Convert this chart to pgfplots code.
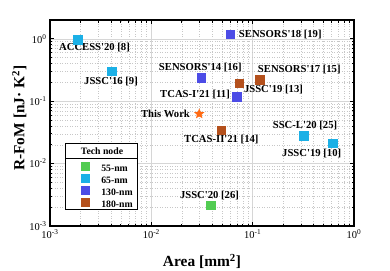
\documentclass[border=0pt]{standalone}
\usepackage{fontspec}
\setmainfont{Liberation Serif}
\usepackage{pgfplots}
\pgfplotsset{compat=1.18}
\definecolor{c55}{HTML}{52CC52}
\definecolor{c65}{HTML}{1BB0E6}
\definecolor{c130}{HTML}{4C4CE6}
\definecolor{c180}{HTML}{B4501C}
\definecolor{cstar}{HTML}{FF6A13}
\pgfdeclareplotmark{fstar}{%
 \pgfpathmoveto{\pgfpointpolar{90}{\pgfplotmarksize}}%
 \pgfpathlineto{\pgfpointpolar{126}{0.45\pgfplotmarksize}}%
 \pgfpathlineto{\pgfpointpolar{162}{\pgfplotmarksize}}%
 \pgfpathlineto{\pgfpointpolar{198}{0.45\pgfplotmarksize}}%
 \pgfpathlineto{\pgfpointpolar{234}{\pgfplotmarksize}}%
 \pgfpathlineto{\pgfpointpolar{270}{0.45\pgfplotmarksize}}%
 \pgfpathlineto{\pgfpointpolar{306}{\pgfplotmarksize}}%
 \pgfpathlineto{\pgfpointpolar{342}{0.45\pgfplotmarksize}}%
 \pgfpathlineto{\pgfpointpolar{18}{\pgfplotmarksize}}%
 \pgfpathlineto{\pgfpointpolar{54}{0.45\pgfplotmarksize}}%
 \pgfpathclose\pgfusepathqfill}
\newcommand{\q}{\textquotesingle}
\newcommand{\lbl}{\bfseries\fontsize{10.7}{12}\selectfont}
\begin{document}
\begin{tikzpicture}
\useasboundingbox (-50bp,-45bp) rectangle (340bp,226bp);
\begin{axis}[
  scale only axis, width=304bp, height=206bp,
  at={(0,0)}, anchor=south west,
  xmode=log, ymode=log,
  xmin=1e-3, xmax=1, ymin=1e-3, ymax=2,
  grid=both,
  major grid style={line width=0.5bp, draw=black!16},
  minor grid style={line width=0.5bp, draw=black!22, dotted},
  axis line style={line width=1.2bp, black},
  tick align=inside,
  tick style={black, line width=0.8bp},
  major tick length=4bp, minor tick length=2.5bp,
  xticklabel={10\textsuperscript{\pgfmathtruncatemacro\ee{round(\tick/ln(10))}\ee}},
  yticklabel={10\textsuperscript{\pgfmathtruncatemacro\ee{round(\tick/ln(10))}\ee}},
  ticklabel style={font=\fontsize{10.5}{12}\selectfont},
  xlabel={Area [mm\textsuperscript{2}]},
  ylabel={R-FoM [nJ· K\textsuperscript{2}]},
  every axis x label/.style={at={(rel axis cs:0.5,0)}, anchor=base, yshift=-40.7bp, font=\bfseries\fontsize{15.5}{17}\selectfont},
  every axis y label/.style={at={(rel axis cs:0,0.524)}, rotate=90, anchor=base, yshift=25.5bp, font=\bfseries\fontsize{15.5}{17}\selectfont},
  legend style={at={(rel axis cs:0.1020,0.3121)}, anchor=north west, draw=none, fill=none, inner sep=0pt, row sep=0.3bp, column sep=11.7bp,
    nodes={inner sep=0pt, text height=7bp, text depth=2bp, font=\bfseries\fontsize{9.8}{11}\selectfont}},
  legend cell align=left,
  legend image code/.code={\fill[#1] (-4bp,-1bp) rectangle (4bp,7bp);},
]
\fill[white] (rel axis cs:0.0526,0.0777) rectangle (rel axis cs:0.2862,0.4005);
\draw[line width=1bp] (rel axis cs:0.0526,0.0777) rectangle (rel axis cs:0.2862,0.4005);
\draw[line width=1bp] (rel axis cs:0.0526,0.3301) -- (rel axis cs:0.2862,0.3301);
\node[font=\bfseries\fontsize{9.8}{11}\selectfont] at (rel axis cs:0.1711,0.3641) {Tech node};

\addplot[only marks, mark=square*, mark size=4.3bp, color=c55, fill=c55, mark options={line width=0.1bp}]
  coordinates {(0.0385,0.00217)};
\addlegendentry{55-nm}
\addplot[only marks, mark=square*, mark size=4.3bp, color=c65, fill=c65, mark options={line width=0.1bp}]
  coordinates {(0.00186,0.98) (0.00403,0.306) (0.316,0.028) (0.616,0.0212)};
\addlegendentry{65-nm}
\addplot[only marks, mark=square*, mark size=4.3bp, color=c130, fill=c130, mark options={line width=0.1bp}]
  coordinates {(0.0598,1.19) (0.0309,0.239) (0.0697,0.119)};
\addlegendentry{130-nm}
\addplot[only marks, mark=square*, mark size=4.3bp, color=c180, fill=c180, mark options={line width=0.1bp}]
  coordinates {(0.0734,0.194) (0.1164,0.22) (0.0488,0.0346)};
\addlegendentry{180-nm}
\addplot[only marks, mark=fstar, mark size=5.5bp, color=cstar, fill=cstar, forget plot]
  coordinates {(0.0297,0.0626)};

\node[font=\lbl] at (axis cs:0.002749,0.7172) {ACCESS\q20 [8]};
\node[font=\lbl] at (axis cs:0.004000,0.2042) {JSSC\q16 [9]};
\node[font=\lbl] at (axis cs:0.1874,1.159) {SENSORS\q18 [19]};
\node[font=\lbl] at (axis cs:0.03043,0.3515) {SENSORS\q14 [16]};
\node[font=\lbl] at (axis cs:0.2886,0.3181) {SENSORS\q17 [15]};
\node[font=\lbl] at (axis cs:0.1605,0.1520) {JSSC\q19 [13]};
\node[font=\lbl] at (axis cs:0.02698,0.1264) {TCAS-I\q21 [11]};
\node[font=\lbl] at (axis cs:0.01379,0.06191) {This Work};
\node[font=\lbl] at (axis cs:0.04904,0.02396) {TCAS-II\q21 [14]};
\node[font=\lbl] at (axis cs:0.3285,0.04064) {SSC-L\q20 [25]};
\node[font=\lbl] at (axis cs:0.3825,0.01466) {JSSC\q19 [10]};
\node[font=\lbl] at (axis cs:0.03750,0.003062) {JSSC\q20 [26]};
\end{axis}
\end{tikzpicture}
\end{document}
